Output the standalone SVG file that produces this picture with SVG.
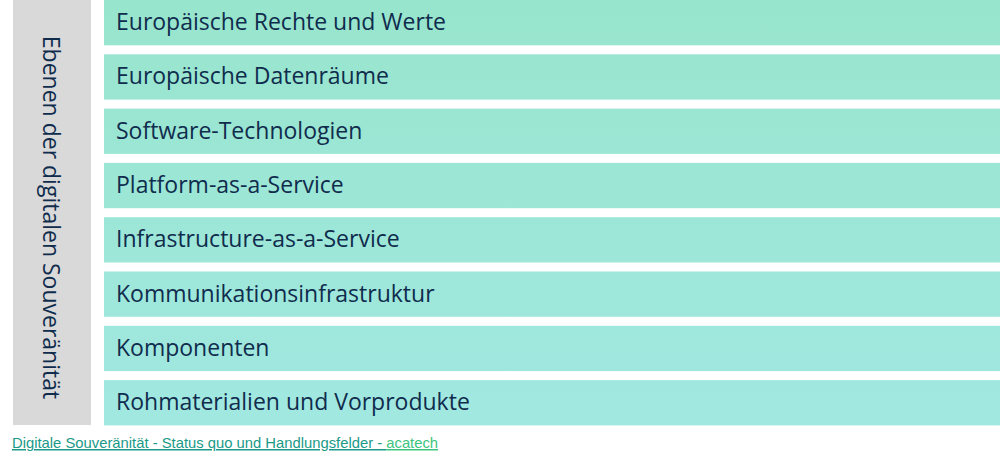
<svg xmlns="http://www.w3.org/2000/svg" width="1000" height="462" viewBox="0 0 1000 462">
<defs>
<linearGradient id="g" x1="0" y1="0" x2="0" y2="425" gradientUnits="userSpaceOnUse">
<stop offset="0" stop-color="#98e5cd"/>
<stop offset="1" stop-color="#a1e8e1"/>
</linearGradient>
<style>
.bar{fill:url(#g)}
.lbl{font-family:"Open Sans",sans-serif;font-size:23px;fill:#102c4d}
.side{font-family:"Open Sans",sans-serif;font-size:23px;fill:#102c4d}
.foot{font-family:"Liberation Sans",Arial,sans-serif;font-size:14.8px}
.u{text-decoration:underline}
</style>
</defs>
<rect width="1000" height="462" fill="#ffffff"/>
<g id="side">
<rect x="13" y="0" width="78" height="425" fill="#d9d9d9"/>
<text class="side" transform="translate(43,217.5) rotate(90)" text-anchor="middle">Ebenen der digitalen Souveränität</text>
</g>
<g id="n1"><rect class="bar" x="104" y="0" width="896" height="45.3"/><text class="lbl" x="116" y="30">Europäische Rechte und Werte</text></g>
<g id="n2"><rect class="bar" x="104" y="54.3" width="896" height="45.3"/><text class="lbl" x="116" y="84.3">Europäische Datenräume</text></g>
<g id="n3"><rect class="bar" x="104" y="108.6" width="896" height="45.3"/><text class="lbl" x="116" y="138.6">Software-Technologien</text></g>
<g id="n4"><rect class="bar" x="104" y="162.9" width="896" height="45.3"/><text class="lbl" x="116" y="192.9">Platform-as-a-Service</text></g>
<g id="n5"><rect class="bar" x="104" y="217.2" width="896" height="45.3"/><text class="lbl" x="116" y="247.2">Infrastructure-as-a-Service</text></g>
<g id="n6"><rect class="bar" x="104" y="271.5" width="896" height="45.3"/><text class="lbl" x="116" y="301.5">Kommunikationsinfrastruktur</text></g>
<g id="n7"><rect class="bar" x="104" y="325.8" width="896" height="45.3"/><text class="lbl" x="116" y="355.8">Komponenten</text></g>
<g id="n8"><rect class="bar" x="104" y="380.1" width="896" height="45.3"/><text class="lbl" x="116" y="410.1">Rohmaterialien und Vorprodukte</text></g>
<g id="connectors"/>
<g id="footer">
<text class="foot" x="12" y="448"><tspan class="u" fill="#1a9988">Digitale Souveränität - Status quo und Handlungsfelder - </tspan><tspan class="u" fill="#3cc47f">acatech</tspan></text>
</g>
</svg>
